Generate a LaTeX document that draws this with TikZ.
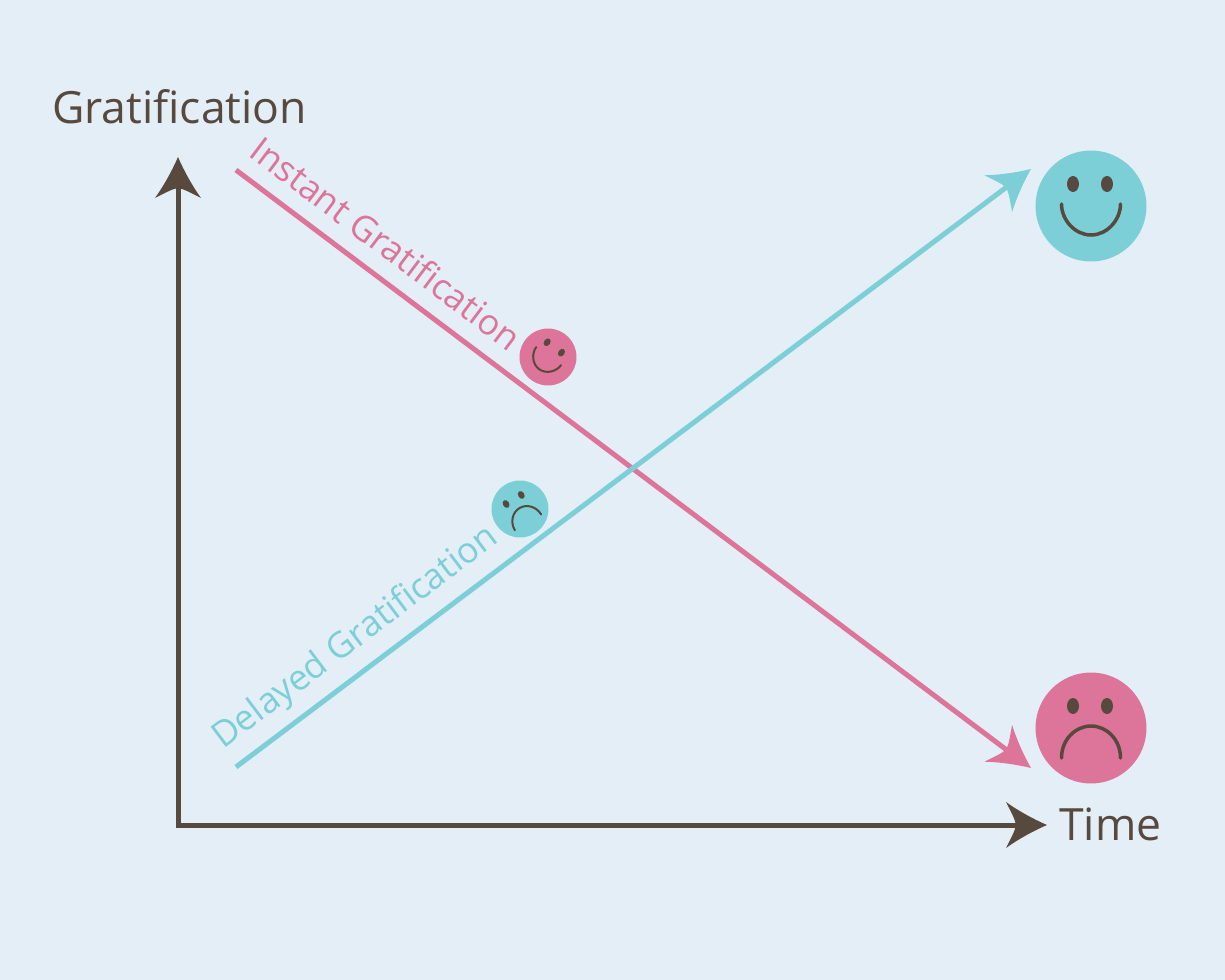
\documentclass[tikz,border=0pt]{standalone}
\usepackage{fontspec}
\setmainfont{Open Sans}
\definecolor{bgblue}{HTML}{E3EEF6}
\definecolor{axisbrown}{HTML}{57493E}
\definecolor{instantpink}{HTML}{DD7499}
\definecolor{delayteal}{HTML}{7CCFD6}
\tikzset{
	axislabel/.style={inner sep=0pt, text=axisbrown, font=\fontsize{25.3}{26}\selectfont, anchor=base west},
	curvelabel/.style={inner sep=0pt, font=\fontsize{20.2}{22}\selectfont, anchor=base west},
	bigface/.style={circle, inner sep=0pt, minimum size=2.22cm},
	smallface/.style={circle, inner sep=0pt, minimum size=1.14cm},
	tiphead/.pic={\fill (0,0) .. controls (-14,-6) and (-30,-15) .. (-41,-23) .. controls (-36,-13) and (-32,-6) .. (-31,0) .. controls (-32,6) and (-36,13) .. (-41,23) .. controls (-30,15) and (-14,6) .. cycle;},
	eyepair/.pic={\fill[axisbrown] (-18,-22) ellipse[x radius=0.12cm, y radius=0.16cm] (16,-22) ellipse[x radius=0.12cm, y radius=0.16cm];},
	smilemouth/.pic={\draw[axisbrown, line cap=round] (-29.5,-2) .. controls (-29.5,14) and (-16,29) .. (0,29) .. controls (16,29) and (29.5,14) .. (29.5,-2);},
	frownmouth/.pic={\draw[axisbrown, line cap=round] (-29.5,30) .. controls (-29.5,12) and (-16,-2) .. (0,-2) .. controls (16,-2) and (29.5,12) .. (29.5,30);},
}
\begin{document}
\begin{tikzpicture}[x=0.02cm, y=-0.02cm]
	\fill[bgblue] (0,0) rectangle (1225,980);
	\useasboundingbox (0,0) rectangle (1225,980);
	% axes
	\coordinate (origin) at (178,825);
	\coordinate (ytip) at (178,157);
	\coordinate (yend) at (178,185);
	\coordinate (xtip) at (1047,825);
	\coordinate (xend) at (1020,825);
	\draw[axisbrown, line width=0.1cm, line cap=round] (yend) -- (origin) -- (xend);
	\path (ytip) pic[axisbrown, rotate=90] {tiphead};
	\path (xtip) pic[axisbrown] {tiphead};
	% curves
	\coordinate (instantstart) at (236,170);
	\coordinate (instantend) at (1012,754);
	\coordinate (instanttip) at (1031,768);
	\coordinate (delaystart) at (236,767);
	\coordinate (delayend) at (1012,183);
	\coordinate (delaytip) at (1031,169);
	\draw[instantpink, line width=0.1cm] (instantstart) -- (instantend);
	\path (instanttip) pic[instantpink, rotate=-37] {tiphead};
	\draw[delayteal, line width=0.1cm] (delaystart) -- (delayend);
	\path (delaytip) pic[delayteal, rotate=37] {tiphead};
	% faces
	\node[bigface, fill=delayteal] (happybig) at (1091,206) {};
	\node[bigface, fill=instantpink] (sadbig) at (1091,728) {};
	\node[smallface, fill=instantpink] (happysmall) at (548,357) {};
	\node[smallface, fill=delayteal] (sadsmall) at (520,509) {};
	\path (happybig) pic {eyepair} pic[line width=0.07cm] {smilemouth};
	\path (sadbig) pic {eyepair} pic[line width=0.07cm] {frownmouth};
	\path (happysmall) pic[scale=0.52, rotate=-36] {eyepair} pic[scale=0.52, rotate=-36, line width=0.04cm] {smilemouth};
	\path (sadsmall) pic[scale=0.52, rotate=31] {eyepair} pic[scale=0.52, rotate=31, line width=0.04cm] {frownmouth};
	% labels
	\node[axislabel] (gratlabel) at (52,124) {Gratification};
	\node[axislabel] (timelabel) at (1059,840) {Time};
	\node[curvelabel, text=instantpink, rotate=-37] (instantlabel) at (247,155) {Instant Gratification};
	\node[curvelabel, text=delayteal, rotate=37] (delaylabel) at (223,750) {Delayed Gratification};
\end{tikzpicture}
\end{document}
